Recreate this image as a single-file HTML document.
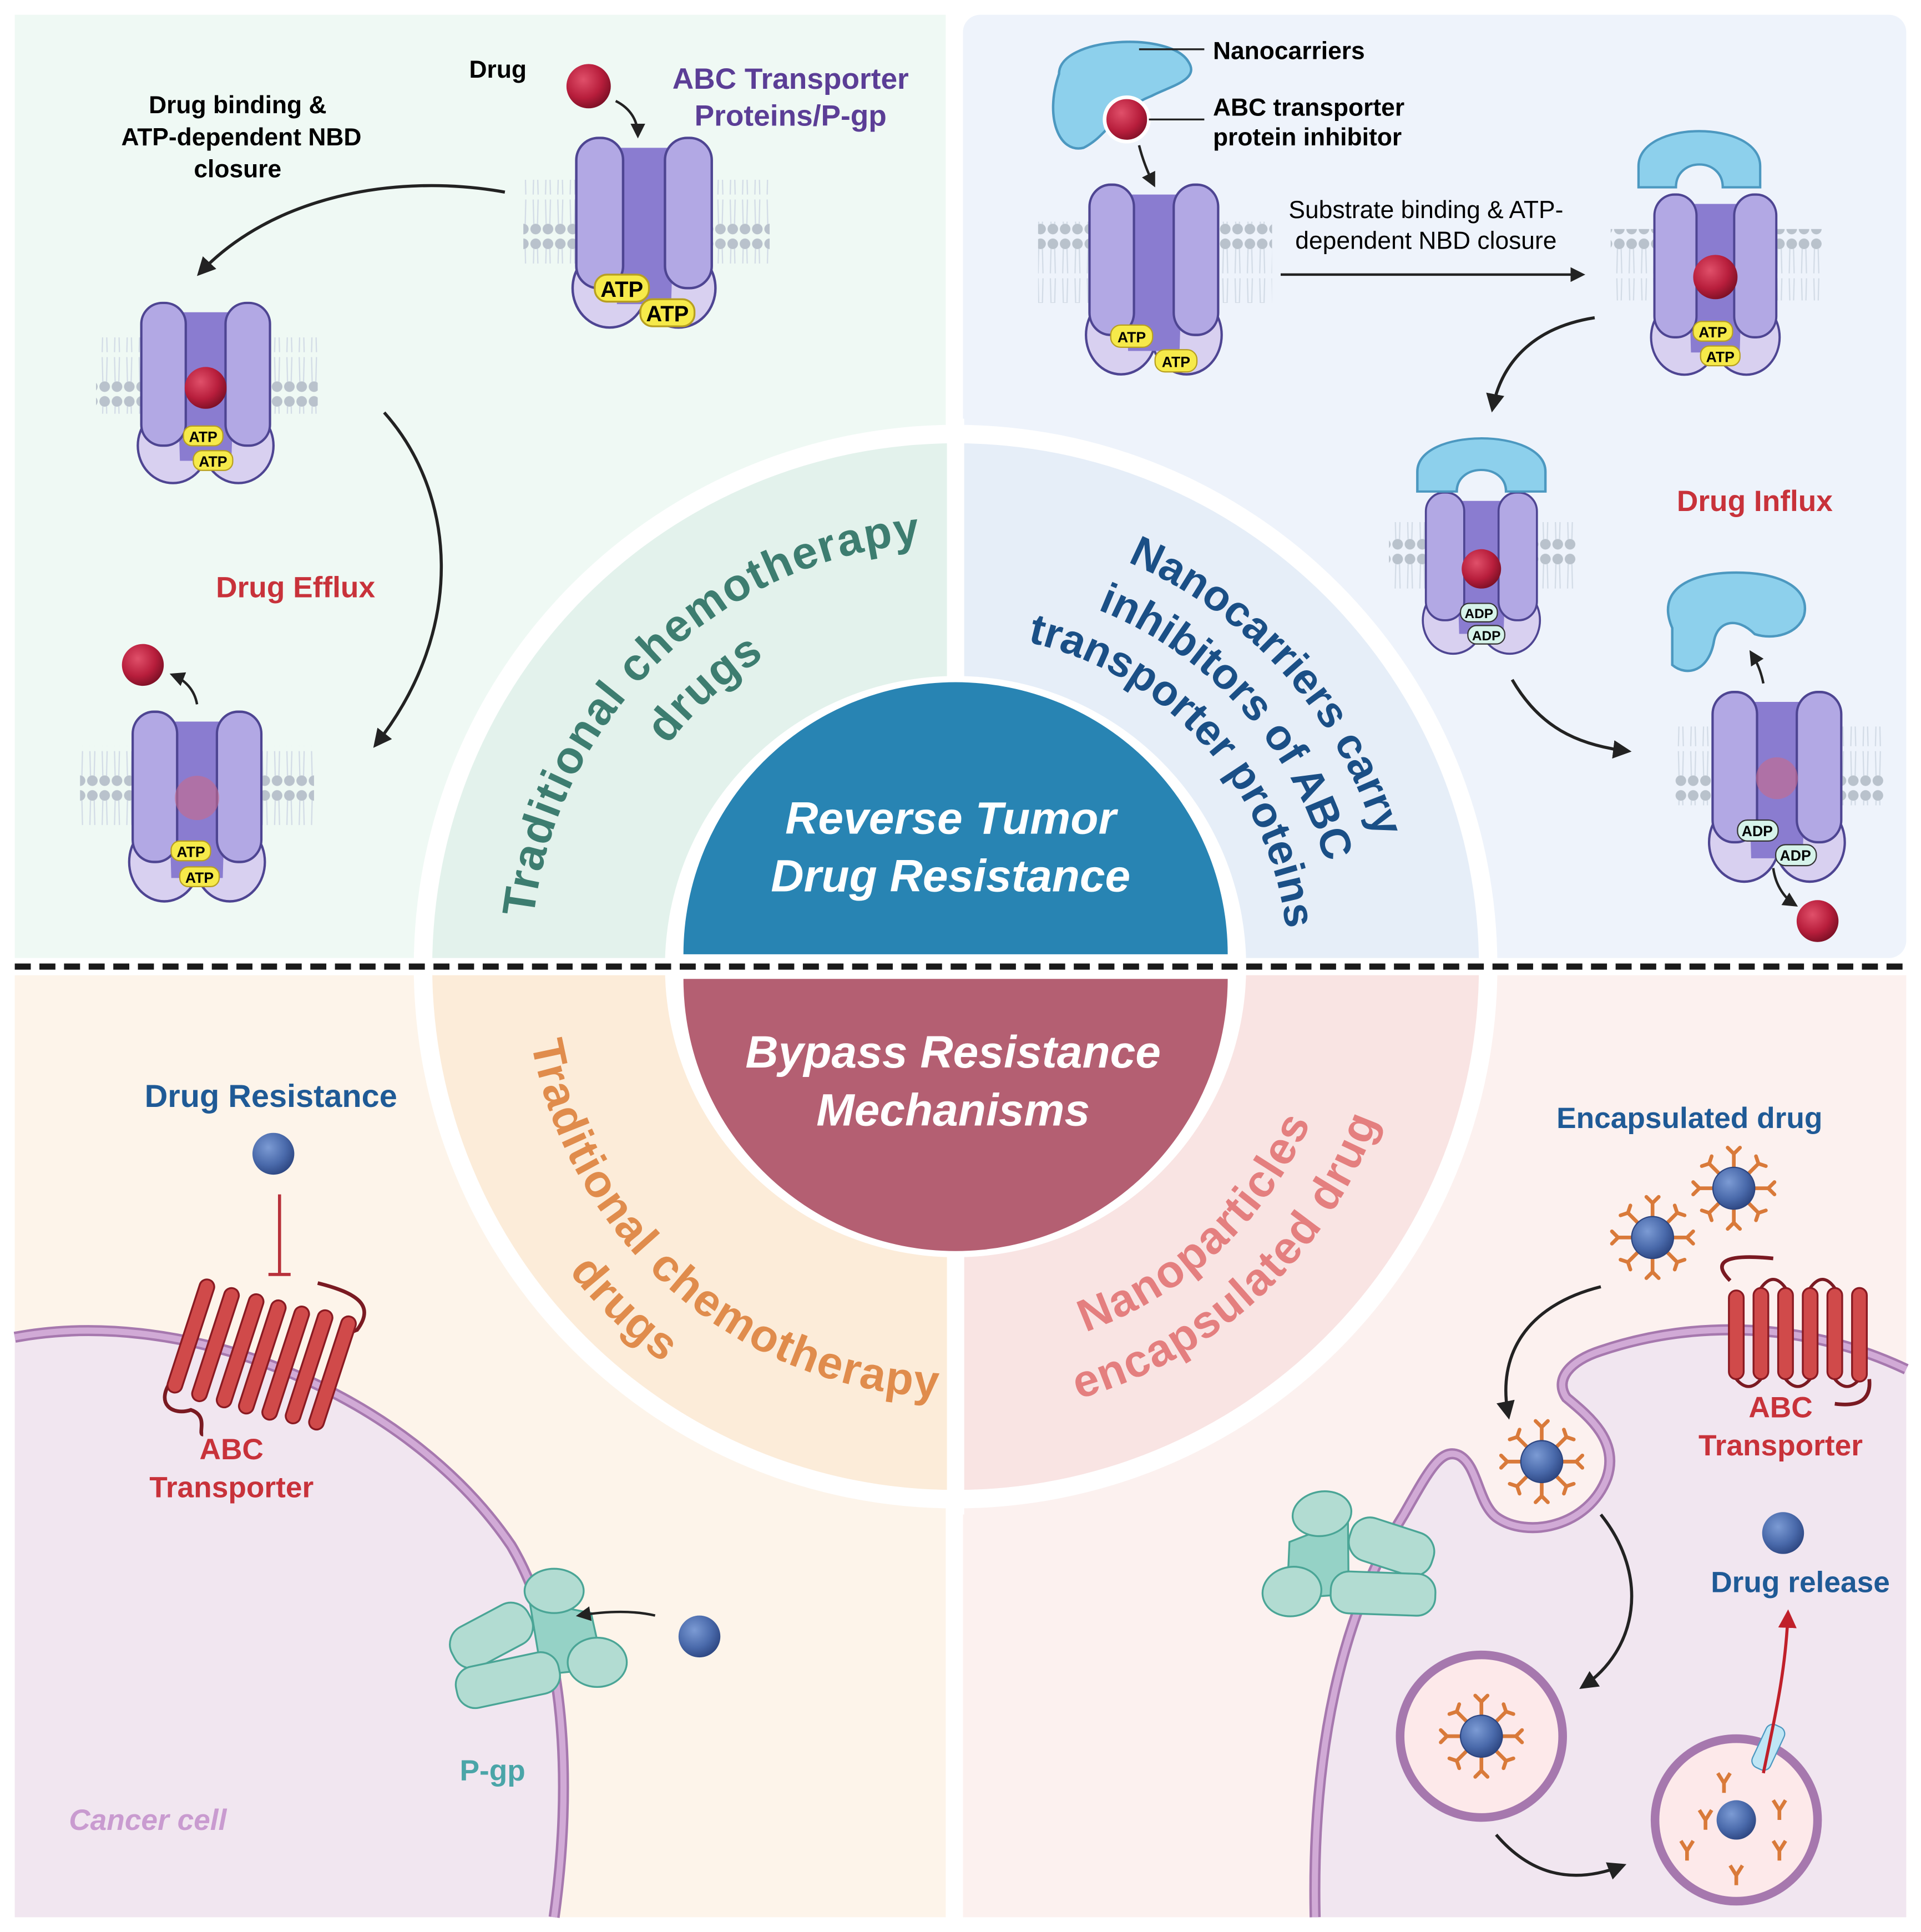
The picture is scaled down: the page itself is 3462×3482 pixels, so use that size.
<!DOCTYPE html>
<html><head><meta charset="utf-8"><style>html,body{margin:0;padding:0;background:#fff}svg{display:block}text{font-family:"Liberation Sans",sans-serif}</style></head>
<body>
<svg width="3462" height="3482" viewBox="0 0 1560 1569" xmlns="http://www.w3.org/2000/svg">
<defs>
<radialGradient id="rd" cx="0.38" cy="0.35" r="0.7"><stop offset="0" stop-color="#e0506a"/><stop offset="0.6" stop-color="#b81e3c"/><stop offset="1" stop-color="#7a0f24"/></radialGradient>
<radialGradient id="bd" cx="0.38" cy="0.35" r="0.7"><stop offset="0" stop-color="#7c9bd4"/><stop offset="0.6" stop-color="#4a6aab"/><stop offset="1" stop-color="#2c4580"/></radialGradient>
<pattern id="mem" width="10" height="64" patternUnits="userSpaceOnUse"><circle cx="5" cy="6" r="4.3" fill="#b9c2cc"/><circle cx="5" cy="58" r="4.3" fill="#b9c2cc"/><path d="M3.5 10 L3 30 M6.5 10 L7 30 M3 34 L3.5 54 M7 34 L6.5 54" stroke="#d2dbe6" stroke-width="1"/></pattern>
<marker id="ar" viewBox="0 0 10 10" refX="8" refY="5" markerWidth="6" markerHeight="6" orient="auto"><path d="M0 0 L10 5 L0 10 Z" fill="#222"/></marker>
<marker id="arr" viewBox="0 0 10 10" refX="8" refY="5" markerWidth="6" markerHeight="6" orient="auto"><path d="M0 0 L10 5 L0 10 Z" fill="#c0202a"/></marker>
<g id="tp">
<ellipse cx="-28" cy="122" rx="30" ry="32" fill="#d8d0f0" stroke="#4e4592" stroke-width="2"/>
<ellipse cx="28" cy="122" rx="30" ry="32" fill="#d8d0f0" stroke="#4e4592" stroke-width="2"/>
<path d="M-26 8 L26 8 L22 135 L-22 135 Z" fill="#8a7cd0"/>
<rect x="-55" y="0" width="38" height="122" rx="18" fill="#b2a8e4" stroke="#4e4592" stroke-width="2"/>
<rect x="17" y="0" width="38" height="122" rx="18" fill="#b2a8e4" stroke="#4e4592" stroke-width="2"/>
</g>
<g id="cap"><path d="M-52 0 C-52 -40 52 -40 52 0 L52 18 L20 18 C20 -8 -20 -8 -20 18 L-52 18 Z" fill="#8dd0ec" stroke="#4c98c0" stroke-width="2"/></g>
<g id="pg"><g fill="#b2dcd2" stroke="#4aa596" stroke-width="1.5">
<rect x="-75" y="-20" width="70" height="36" rx="16" transform="rotate(-28 -40 0)"/>
<path d="M-10 -30 L40 -20 L50 25 L0 30 Z" fill="#95d2c6"/>
<rect x="-70" y="18" width="85" height="34" rx="15" transform="rotate(-12 -30 35)"/>
<ellipse cx="10" cy="-38" rx="24" ry="18"/><ellipse cx="45" cy="20" rx="24" ry="20"/></g></g>
<g id="np"><g stroke="#d97a3a" stroke-width="3" fill="none" stroke-linecap="round">
<path d="M0 -16 L0 -28 M-5 -33 L0 -28 L5 -33"/><path d="M0 16 L0 28 M-5 33 L0 28 L5 33"/><path d="M-16 0 L-28 0 M-33 -5 L-28 0 L-33 5"/><path d="M16 0 L28 0 M33 -5 L28 0 L33 5"/>
<path d="M11 -11 L20 -20 M18 -26 L20 -20 L26 -18"/><path d="M-11 11 L-20 20 M-18 26 L-20 20 L-26 18"/><path d="M-11 -11 L-20 -20 M-26 -18 L-20 -20 L-18 -26"/><path d="M11 11 L20 20 M26 18 L20 20 L18 26"/></g>
<circle r="17" fill="url(#bd)" stroke="#2c4580" stroke-width="1"/></g>
<g id="abc" fill="#d04a4a" stroke="#8a1a22" stroke-width="1.5">
<rect x="-6" y="-48" width="12" height="96" rx="6" transform="rotate(18)"/></g>
<path id="t1" d="M441.2,868.5 A345,345 0 0 1 871.1,453.4"/>
<path id="t2" d="M487.5,846.3 A295,295 0 0 1 867.2,504.4"/>
<path id="r1" d="M701.8,435.8 A357,357 0 0 1 1115.5,895.3"/>
<path id="r2" d="M711.1,479.8 A312,312 0 0 1 1072.7,881.4"/>
<path id="r3" d="M719.9,520.9 A270,270 0 0 1 1032.8,868.4"/>
<path id="b1" d="M432.4,718.2 A350,350 0 0 0 890.0,1115.9"/>
<path id="b2" d="M387.9,688.2 A400,400 0 0 0 886.2,1169.5"/>
<path id="n1" d="M683.9,1086.2 A315,315 0 0 0 1082.9,714.1"/>
<path id="n2" d="M669.3,1134.0 A365,365 0 0 0 1131.7,702.9"/>
</defs>

<rect x="12" y="12" width="756" height="766" fill="#eff9f4"/>
<rect x="782" y="12" width="766" height="766" rx="14" fill="#eef3fb"/>
<rect x="12" y="792" width="756" height="765" fill="#fdf4ea"/>
<rect x="782" y="792" width="766" height="765" fill="#fcf1ef"/>

<path d="M12 1086 C150 1060 330 1130 415 1255 C460 1330 465 1450 450 1557 L12 1557 Z" fill="#f1e6f0"/>
<path d="M12 1086 C150 1060 330 1130 415 1255 C460 1330 465 1450 450 1557" fill="none" stroke="#a678ae" stroke-width="9"/>
<path d="M12 1086 C150 1060 330 1130 415 1255 C460 1330 465 1450 450 1557" fill="none" stroke="#d1aad6" stroke-width="5"/>
<path d="M1068 1557 C1065 1420 1090 1310 1140 1230 C1160 1195 1170 1175 1185 1182 C1200 1190 1200 1220 1215 1232 C1240 1250 1290 1240 1305 1200 C1315 1170 1290 1150 1272 1135 C1262 1120 1275 1105 1300 1097 C1380 1070 1470 1075 1548 1112 L1548 1557 Z" fill="#f1e6f0"/>
<path d="M1068 1557 C1065 1420 1090 1310 1140 1230 C1160 1195 1170 1175 1185 1182 C1200 1190 1200 1220 1215 1232 C1240 1250 1290 1240 1305 1200 C1315 1170 1290 1150 1272 1135 C1262 1120 1275 1105 1300 1097 C1380 1070 1470 1075 1548 1112" fill="none" stroke="#a678ae" stroke-width="9"/>
<path d="M1068 1557 C1065 1420 1090 1310 1140 1230 C1160 1195 1170 1175 1185 1182 C1200 1190 1200 1220 1215 1232 C1240 1250 1290 1240 1305 1200 C1315 1170 1290 1150 1272 1135 C1262 1120 1275 1105 1300 1097 C1380 1070 1470 1075 1548 1112" fill="none" stroke="#d1aad6" stroke-width="5"/>

<circle cx="776" cy="785" r="440" fill="#fff"/>
<path d="M776 785 L351 785 A425 425 0 0 1 776 360 Z" fill="#e3f2ec"/>
<path d="M776 785 L776 360 A425 425 0 0 1 1201 785 Z" fill="#e6eef8"/>
<path d="M776 785 L351 785 A425 425 0 0 0 776 1210 Z" fill="#fcecd9"/>
<path d="M776 785 L776 1210 A425 425 0 0 0 1201 785 Z" fill="#f9e4e3"/>
<line x1="776" y1="340" x2="776" y2="1230" stroke="#fff" stroke-width="14"/>
<line x1="330" y1="785" x2="1220" y2="785" stroke="#fff" stroke-width="14"/>
<circle cx="776" cy="785" r="236" fill="#fff"/>
<path d="M555 775 A221 221 0 0 1 997 775 Z" fill="#2884b3"/>
<path d="M555 795 A221 221 0 0 0 997 795 Z" fill="#b45f72"/>
<line x1="12" y1="785" x2="1548" y2="785" stroke="#1a1a1a" stroke-width="5" stroke-dasharray="13 7"/>
<g fill="#fff" font-weight="bold" font-style="italic" font-size="37" text-anchor="middle">
<text x="772" y="677">Reverse Tumor</text><text x="772" y="724">Drug Resistance</text>
<text x="774" y="867">Bypass Resistance</text><text x="774" y="914">Mechanisms</text></g>

<g font-weight="bold" font-size="37" text-anchor="middle" letter-spacing="1">
<text fill="#3d7d70"><textPath href="#t1" startOffset="50%">Traditional chemotherapy</textPath></text>
<text fill="#3d7d70"><textPath href="#t2" startOffset="50%">drugs</textPath></text>
<text fill="#e08c4c"><textPath href="#b1" startOffset="50%">Traditional chemotherapy</textPath></text>
<text fill="#e08c4c"><textPath href="#b2" startOffset="50%">drugs</textPath></text>
<text fill="#e47f7f"><textPath href="#n1" startOffset="50%">Nanoparticles</textPath></text>
<text fill="#e47f7f"><textPath href="#n2" startOffset="50%">encapsulated drug</textPath></text>
</g>
<g font-weight="bold" font-size="35" text-anchor="middle" fill="#1a4f86">
<text><textPath href="#r1" startOffset="50%">Nanocarriers carry</textPath></text>
<text><textPath href="#r2" startOffset="50%">inhibitors of ABC</textPath></text>
<text><textPath href="#r3" startOffset="50%">transporter proteins</textPath></text>
</g>

<!-- TOP LEFT -->
<rect x="425" y="146" width="200" height="68" fill="url(#mem)"/>
<use href="#tp" transform="translate(523 112) scale(1 1)"/>
<g font-weight="bold" text-anchor="middle"><rect x="483" y="223" width="44" height="22" rx="10" fill="#f6ea4a" stroke="#b8a020" stroke-width="1.5"/><text x="505" y="241" font-size="18">ATP</text>
<rect x="520" y="243" width="44" height="22" rx="10" fill="#f6ea4a" stroke="#b8a020" stroke-width="1.5"/><text x="542" y="261" font-size="18">ATP</text></g>
<circle cx="478" cy="70" r="18" fill="url(#rd)"/>
<path d="M500 82 C512 88 518 98 518 110" fill="none" stroke="#222" stroke-width="2" marker-end="url(#ar)"/>
<path d="M410 156 C320 140 220 160 162 222" fill="none" stroke="#222" stroke-width="2.5" marker-end="url(#ar)"/>
<rect x="78" y="274" width="180" height="62" fill="url(#mem)"/>
<use href="#tp" transform="translate(167 246) scale(0.95 0.95)"/>
<circle cx="167" cy="315" r="17" fill="url(#rd)"/>
<g font-weight="bold" text-anchor="middle" font-size="12"><rect x="149" y="346" width="32" height="16" rx="7" fill="#f6ea4a" stroke="#b8a020"/><text x="165" y="359">ATP</text>
<rect x="157" y="366" width="32" height="16" rx="7" fill="#f6ea4a" stroke="#b8a020"/><text x="173" y="379">ATP</text></g>
<path d="M312 335 C370 400 380 510 305 605" fill="none" stroke="#222" stroke-width="2.5" marker-end="url(#ar)"/>
<rect x="65" y="606" width="190" height="66" fill="url(#mem)"/>
<use href="#tp" transform="translate(160 578) scale(0.95 1)"/>
<circle cx="160" cy="648" r="18" fill="#c86a8a" opacity="0.6"/>
<g font-weight="bold" text-anchor="middle" font-size="12"><rect x="139" y="683" width="32" height="16" rx="7" fill="#f6ea4a" stroke="#b8a020"/><text x="155" y="696">ATP</text>
<rect x="146" y="704" width="32" height="16" rx="7" fill="#f6ea4a" stroke="#b8a020"/><text x="162" y="717">ATP</text></g>
<circle cx="116" cy="540" r="17" fill="url(#rd)"/>
<path d="M160 572 C158 560 150 552 140 548" fill="none" stroke="#222" stroke-width="2" marker-end="url(#ar)"/>
<g font-weight="bold">
<text x="381" y="63" font-size="20">Drug</text>
<text x="642" y="72" font-size="24" fill="#5b3e96" text-anchor="middle">ABC Transporter</text>
<text x="642" y="102" font-size="24" fill="#5b3e96" text-anchor="middle">Proteins/P-gp</text>
<text x="193" y="92" font-size="20" text-anchor="middle">Drug binding &amp;</text>
<text x="196" y="118" font-size="20" text-anchor="middle">ATP-dependent NBD</text>
<text x="193" y="144" font-size="20" text-anchor="middle">closure</text>
<text x="240" y="485" font-size="24" fill="#c8323a" text-anchor="middle">Drug Efflux</text>
</g>

<!-- TOP RIGHT -->
<path d="M860 60 C860 30 950 25 965 50 C975 65 950 70 935 78 C905 90 900 110 880 120 C860 125 848 95 860 60 Z" fill="#8dd0ec" stroke="#4c98c0" stroke-width="2"/>
<circle cx="915" cy="97" r="18" fill="url(#rd)" stroke="#fff" stroke-width="3"/>
<line x1="925" y1="40" x2="978" y2="40" stroke="#222" stroke-width="1.5"/>
<line x1="933" y1="97" x2="978" y2="97" stroke="#222" stroke-width="1.5"/>
<path d="M925 118 C928 130 932 140 937 150" fill="none" stroke="#222" stroke-width="2" marker-end="url(#ar)"/>
<rect x="843" y="180" width="190" height="66" fill="url(#mem)"/>
<use href="#tp" transform="translate(937 150) scale(0.95 1)"/>
<g font-weight="bold" text-anchor="middle" font-size="12"><rect x="902" y="264" width="34" height="18" rx="8" fill="#f6ea4a" stroke="#b8a020"/><text x="919" y="278">ATP</text>
<rect x="938" y="284" width="34" height="18" rx="8" fill="#f6ea4a" stroke="#b8a020"/><text x="955" y="298">ATP</text></g>
<line x1="1040" y1="223" x2="1285" y2="223" stroke="#222" stroke-width="2" marker-end="url(#ar)"/>
<rect x="1308" y="186" width="172" height="58" fill="url(#mem)"/>
<use href="#tp" transform="translate(1393 158) scale(0.9 0.95)"/>
<use href="#cap" transform="translate(1380 135) scale(0.95)"/>
<circle cx="1393" cy="225" r="18" fill="url(#rd)"/>
<g font-weight="bold" text-anchor="middle" font-size="12"><rect x="1375" y="261" width="32" height="16" rx="7" fill="#f6ea4a" stroke="#b8a020"/><text x="1391" y="274">ATP</text>
<rect x="1381" y="281" width="32" height="16" rx="7" fill="#f6ea4a" stroke="#b8a020"/><text x="1397" y="294">ATP</text></g>
<path d="M1295 258 C1250 265 1220 290 1212 332" fill="none" stroke="#222" stroke-width="2.5" marker-end="url(#ar)"/>
<rect x="1128" y="424" width="152" height="54" fill="url(#mem)"/>
<use href="#tp" transform="translate(1203 400) scale(0.82 0.85)"/>
<use href="#cap" transform="translate(1203 383) scale(1.0 0.9)"/>
<circle cx="1203" cy="462" r="16" fill="url(#rd)"/>
<g font-weight="bold" text-anchor="middle" font-size="11"><rect x="1186" y="490" width="30" height="15" rx="7" fill="#d6f3ea" stroke="#333"/><text x="1201" y="502">ADP</text>
<rect x="1192" y="508" width="30" height="15" rx="7" fill="#d6f3ea" stroke="#333"/><text x="1207" y="520">ADP</text></g>
<path d="M1228 552 C1250 590 1280 605 1322 610" fill="none" stroke="#222" stroke-width="2.5" marker-end="url(#ar)"/>
<path d="M1358 510 C1345 480 1370 465 1410 465 C1450 465 1470 480 1465 500 C1460 515 1440 520 1425 515 C1410 500 1395 505 1392 520 C1388 545 1370 550 1358 540 Z" fill="#8dd0ec" stroke="#4c98c0" stroke-width="2"/>
<path d="M1432 555 C1430 545 1427 538 1422 530" fill="none" stroke="#222" stroke-width="2" marker-end="url(#ar)"/>
<rect x="1360" y="590" width="170" height="64" fill="url(#mem)"/>
<use href="#tp" transform="translate(1443 562) scale(0.95 1)"/>
<circle cx="1443" cy="632" r="17" fill="#c86a8a" opacity="0.6"/>
<g font-weight="bold" text-anchor="middle" font-size="12"><rect x="1411" y="666" width="33" height="17" rx="8" fill="#d6f3ea" stroke="#333"/><text x="1427" y="679">ADP</text>
<rect x="1442" y="686" width="33" height="17" rx="8" fill="#d6f3ea" stroke="#333"/><text x="1458" y="699">ADP</text></g>
<path d="M1440 705 C1442 720 1450 730 1458 735" fill="none" stroke="#222" stroke-width="2" marker-end="url(#ar)"/>
<circle cx="1476" cy="748" r="17" fill="url(#rd)"/>
<g font-size="20">
<text x="985" y="48" font-weight="bold">Nanocarriers</text>
<text x="985" y="94" font-weight="bold">ABC transporter</text>
<text x="985" y="118" font-weight="bold">protein inhibitor</text>
<text x="1158" y="177" text-anchor="middle">Substrate binding &amp; ATP-</text>
<text x="1158" y="202" text-anchor="middle">dependent NBD closure</text>
<text x="1425" y="415" font-size="24" font-weight="bold" fill="#c8323a" text-anchor="middle">Drug Influx</text>
</g>

<!-- BOTTOM LEFT -->
<circle cx="222" cy="937" r="17" fill="url(#bd)"/>
<path d="M227 970 L227 1035 M218 1035 L236 1035" stroke="#b8303a" stroke-width="2.5" fill="none"/>
<g>
<path d="M140 1120 C125 1140 140 1150 155 1145 C170 1150 160 1165 165 1165" fill="none" stroke="#7a1a22" stroke-width="3"/>
<path d="M258 1042 C290 1050 305 1060 290 1080 C275 1085 285 1095 270 1100" fill="none" stroke="#7a1a22" stroke-width="3"/>
<use href="#abc" transform="translate(155 1085)"/>
<use href="#abc" transform="translate(175 1092)"/>
<use href="#abc" transform="translate(195 1097)"/>
<use href="#abc" transform="translate(213 1102)"/>
<use href="#abc" transform="translate(232 1107)"/>
<use href="#abc" transform="translate(251 1110)"/>
<use href="#abc" transform="translate(270 1115)"/>
</g>
<use href="#pg" transform="translate(440 1330)"/>
<path d="M532 1312 C515 1308 495 1308 470 1312" fill="none" stroke="#222" stroke-width="2" marker-end="url(#ar)"/>
<circle cx="568" cy="1329" r="17" fill="url(#bd)"/>
<g font-weight="bold">
<text x="220" y="899" font-size="26" fill="#1f5a96" text-anchor="middle">Drug Resistance</text>
<text x="188" y="1185" font-size="24" fill="#c8323a" text-anchor="middle">ABC</text>
<text x="188" y="1216" font-size="24" fill="#c8323a" text-anchor="middle">Transporter</text>
<text x="400" y="1446" font-size="24" fill="#4aa5a8" text-anchor="middle">P-gp</text>
<text x="120" y="1486" font-size="24" fill="#c99bd0" font-style="italic" text-anchor="middle">Cancer cell</text>
</g>

<!-- BOTTOM RIGHT -->
<use href="#np" transform="translate(1408 965)"/>
<use href="#np" transform="translate(1342 1005)"/>
<path d="M1300 1045 C1240 1060 1215 1100 1225 1150" fill="none" stroke="#222" stroke-width="2.5" marker-end="url(#ar)"/>
<use href="#np" transform="translate(1252 1187)"/>
<g>
<path d="M1405 1040 C1390 1025 1400 1018 1440 1022" fill="none" stroke="#7a1a22" stroke-width="3"/>
<path d="M1518 1120 C1520 1140 1505 1142 1490 1140" fill="none" stroke="#7a1a22" stroke-width="3"/>
<path d="M1410 1120 q10 12 20 0 M1450 1120 q10 12 20 0 M1490 1120 q10 12 20 0 M1430 1046 q10 -14 20 0 M1470 1046 q10 -14 20 0" fill="none" stroke="#7a1a22" stroke-width="2.5"/>
<g fill="#d04a4a" stroke="#8a1a22" stroke-width="1.5">
<rect x="1404" y="1048" width="12" height="72" rx="6"/><rect x="1424" y="1046" width="12" height="74" rx="6"/><rect x="1444" y="1046" width="12" height="74" rx="6"/><rect x="1464" y="1046" width="12" height="74" rx="6"/><rect x="1484" y="1046" width="12" height="74" rx="6"/><rect x="1504" y="1046" width="12" height="76" rx="6"/></g></g>
<g transform="translate(1090 1265) scale(-1 1) rotate(10)"><use href="#pg"/></g>
<path d="M1300 1230 C1340 1280 1330 1340 1285 1370" fill="none" stroke="#222" stroke-width="2.5" marker-end="url(#ar)"/>
<circle cx="1203" cy="1410" r="66" fill="#fde9ea" stroke="#a678ae" stroke-width="7"/>
<use href="#np" transform="translate(1203 1410)"/>
<path d="M1215 1490 C1245 1525 1280 1530 1318 1515" fill="none" stroke="#222" stroke-width="2.5" marker-end="url(#ar)"/>
<circle cx="1410" cy="1478" r="66" fill="#fde9ea" stroke="#a678ae" stroke-width="7"/>
<g stroke="#d97a3a" stroke-width="3" fill="none"><path d="M1380 1470 l5 8 l5 -8 M1385 1478 v8"/><path d="M1440 1462 l5 8 l5 -8 M1445 1470 v8"/><path d="M1440 1495 l5 8 l5 -8 M1445 1503 v8"/><path d="M1405 1515 l5 8 l5 -8 M1410 1523 v8"/><path d="M1365 1495 l5 8 l5 -8 M1370 1503 v8"/><path d="M1395 1440 l5 8 l5 -8 M1400 1448 v8"/></g>
<circle cx="1410" cy="1478" r="16" fill="url(#bd)"/>
<rect x="1428" y="1400" width="16" height="38" rx="6" fill="#bfe6f5" stroke="#4c98c0" transform="rotate(25 1436 1419)"/>
<path d="M1432 1440 C1440 1400 1450 1360 1452 1310" fill="none" stroke="#c0202a" stroke-width="2.5" marker-end="url(#arr)"/>
<circle cx="1448" cy="1245" r="17" fill="url(#bd)"/>
<g font-weight="bold">
<text x="1372" y="916" font-size="24" fill="#1f5a96" text-anchor="middle">Encapsulated drug</text>
<text x="1446" y="1151" font-size="24" fill="#c8323a" text-anchor="middle">ABC</text>
<text x="1446" y="1182" font-size="24" fill="#c8323a" text-anchor="middle">Transporter</text>
<text x="1462" y="1293" font-size="24" fill="#1f5a96" text-anchor="middle">Drug release</text>
</g>
</svg>
</body></html>
